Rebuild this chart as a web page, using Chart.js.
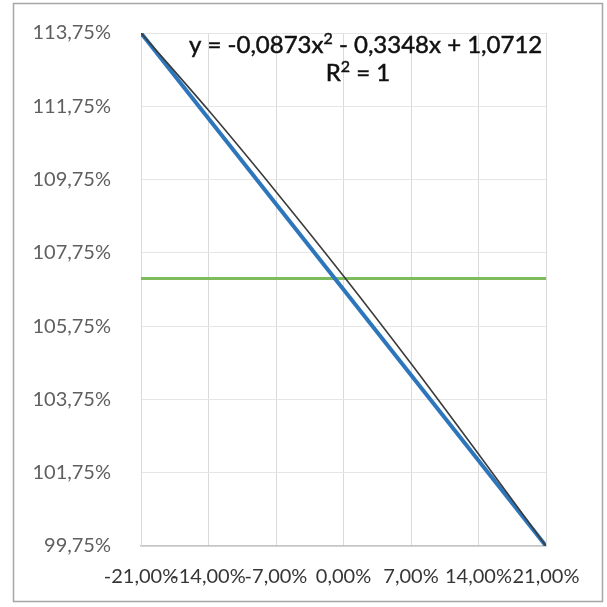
<!DOCTYPE html>
<html>
<head>
<meta charset="utf-8">
<script src="https://cdn.jsdelivr.net/npm/chart.js@4"></script>
<style>
  html, body { margin: 0; padding: 0; background: #ffffff; }
  #wrap { width: 607px; height: 607px; }
</style>
</head>
<body>
<div id="wrap"><canvas id="c" width="607" height="607"></canvas></div>
<script>
// Axis ticks
const xTicks = [-0.21, -0.14, -0.07, 0, 0.07, 0.14, 0.21];
const yTicks = [0.9975, 1.0175, 1.0375, 1.0575, 1.0775, 1.0975, 1.1175, 1.1375];

// Blue series (straight between the two ends)
const seriesX = [-0.21, 0.21];
const seriesY = [1.1375, 0.9975];

// Polynomial trend line, read at each x tick
const trendX = [-0.21, -0.14, -0.07, 0, 0.07, 0.14, 0.21];
const trendY = [1.1375, 1.1164, 1.0942, 1.0712, 1.0473, 1.0226, 0.9975];

// Flat green reference level
const levelX = [-0.21, 0.21];
const levelY = [1.0705, 1.0705];

// Trend line label, split around the superscripts: [text, isSuperscript]
const equationParts = [['y = -0,0873x', false], ['2', true], [' - 0,3348x + 1,0712', false]];
const r2Parts = [['R', false], ['2', true], [' = 1', false]];

const pts = (xs, ys) => xs.map((x, i) => ({ x: x, y: ys[i] }));
const pct = v => (v * 100).toFixed(2).replace('.', ',') + '%';

const FONT = 'Lato, "Open Sans", sans-serif';

// White background and the thin outer frame
const frame = {
  id: 'frame',
  beforeDraw(chart) {
    const ctx = chart.ctx;
    ctx.save();
    ctx.fillStyle = '#ffffff';
    ctx.fillRect(0, 0, chart.width, chart.height);
    ctx.strokeStyle = '#a6a6a6';
    ctx.lineWidth = 1.5;
    ctx.strokeRect(13.5, 3.5, 589, 598);
    ctx.restore();
  }
};

// Draws a line of text with raised small superscript pieces
function drawParts(ctx, parts, x, y, align) {
  const base = '24px ' + FONT;
  const sup = '16px ' + FONT;
  let total = 0;
  parts.forEach(([t, s]) => { ctx.font = s ? sup : base; total += ctx.measureText(t).width; });
  let cx = align === 'center' ? x - total / 2 : x;
  parts.forEach(([t, s]) => {
    ctx.font = s ? sup : base;
    const yy = s ? y - 9 : y;
    ctx.fillText(t, cx, yy);
    ctx.strokeText(t, cx, yy);
    cx += ctx.measureText(t).width;
  });
}

// Trend line equation and R²
const equationLabel = {
  id: 'equationLabel',
  afterDatasetsDraw(chart) {
    const ctx = chart.ctx;
    ctx.save();
    ctx.fillStyle = '#111111';
    ctx.strokeStyle = '#111111';
    ctx.lineWidth = 0.5;
    ctx.textBaseline = 'alphabetic';
    ctx.textAlign = 'left';
    drawParts(ctx, equationParts, 189, 53, 'left');
    drawParts(ctx, r2Parts, 358, 81, 'center');
    ctx.restore();
  }
};

new Chart(document.getElementById('c'), {
  type: 'scatter',
  data: {
    datasets: [
      {
        label: 'Trend',
        data: pts(trendX, trendY),
        showLine: true,
        borderColor: '#3b3b3b',
        borderWidth: 1.6,
        pointRadius: 0,
        cubicInterpolationMode: 'monotone',
        order: 0
      },
      {
        label: 'Series',
        data: pts(seriesX, seriesY),
        showLine: true,
        borderColor: '#2e76bc',
        borderWidth: 4,
        pointRadius: 0,
        order: 1
      },
      {
        label: 'Level',
        data: pts(levelX, levelY),
        showLine: true,
        borderColor: '#7dbb5c',
        borderWidth: 3,
        pointRadius: 0,
        order: 2
      }
    ]
  },
  options: {
    responsive: false,
    animation: false,
    devicePixelRatio: 1,
    layout: { padding: { left: 20, right: 61, top: 33, bottom: 0 } },
    plugins: {
      legend: { display: false },
      tooltip: { enabled: false }
    },
    scales: {
      x: {
        type: 'linear',
        min: -0.21,
        max: 0.21,
        afterBuildTicks: s => { s.ticks = xTicks.map(v => ({ value: v })); },
        afterFit: s => { s.height = 607 - 546; s.paddingTop = 0; s.paddingBottom = 0; },
        ticks: {
          callback: v => pct(v),
          autoSkip: false,
          maxRotation: 0,
          minRotation: 0,
          padding: 19,
          color: '#363636',
          font: { family: FONT, size: 20 }
        },
        grid: { color: '#dadada', lineWidth: 1, drawTicks: false },
        border: { color: '#c4c4c4', width: 1.5 }
      },
      y: {
        type: 'linear',
        min: 0.9975,
        max: 1.1375,
        afterBuildTicks: s => { s.ticks = yTicks.map(v => ({ value: v })); },
        afterFit: s => { s.width = 141 - 20; s.paddingTop = 0; s.paddingBottom = 0; },
        ticks: {
          callback: v => pct(v),
          padding: 30,
          color: '#5f5f5f',
          font: { family: FONT, size: 20 }
        },
        grid: { color: '#e6e6e6', lineWidth: 1, drawTicks: false },
        border: { color: '#dadada', width: 1 }
      }
    }
  },
  plugins: [frame, equationLabel]
});
</script>
</body>
</html>
